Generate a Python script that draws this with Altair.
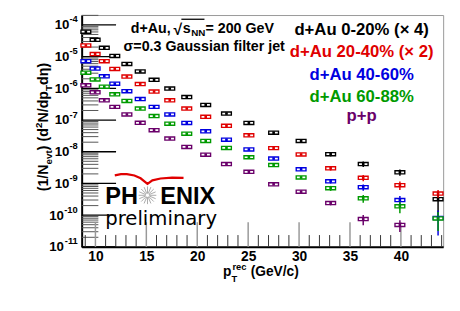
import math
import altair as alt
import pandas as pd

# ---------------- data ----------------
pt = [9.06, 9.97, 10.87, 11.9, 13.09, 14.4, 15.76, 17.3, 18.97, 20.83,
      22.87, 25.07, 27.5, 30.2, 33.1, 36.3, 39.9, 43.65]

dau_0_20 = [6.1e-5, 3.4e-5, 1.9e-5, 1.05e-5, 5.9e-6, 3.4e-6, 1.86e-6, 9.8e-7, 5.3e-7, 3.0e-7,
            1.6e-7, 8.1e-8, 4.0e-8, 2.2e-8, 8.4e-9, 4.1e-9, 2.25e-9, 3.2e-10]
dau_20_40 = [2.25e-5, 1.2e-5, 7.2e-6, 4.1e-6, 2.35e-6, 1.36e-6, 7.9e-7, 4.2e-7, 2.3e-7, 1.26e-7,
             6.6e-8, 3.3e-8, 1.3e-8, 8.2e-9, 3.0e-9, 1.5e-9, 8.8e-10, 4.8e-10]
dau_40_60 = [7.2e-6, 4.2e-6, 2.4e-6, 1.4e-6, 8.1e-7, 4.6e-7, 2.6e-7, 1.5e-7, 8.1e-8, 4.4e-8,
             2.4e-8, 1.18e-8, 6.1e-9, 2.8e-9, 1.17e-9, 7.6e-10, 3.0e-10, 8.2e-11]
dau_60_88 = [3.1e-6, 1.9e-6, 1.13e-6, 6.5e-7, 4.0e-7, 2.3e-7, 1.33e-7, 7.7e-8, 3.7e-8, 2.2e-8,
             1.32e-8, 6.7e-9, 3.8e-9, 1.55e-9, 7.1e-10, 3.4e-10, 1.9e-10, 7.9e-11]
pp = [1.24e-6, 7.5e-7, 4.2e-7, 2.6e-7, 1.5e-7, 8.2e-8, 4.8e-8, 2.6e-8, 1.42e-8, 8.1e-9,
      4.1e-9, 2.33e-9, 9.4e-10, 5.5e-10, 2.4e-10, 7.5e-11, 4.9e-11, None]

# relative statistical errors
err_0_20 = [0.02, 0.02, 0.02, 0.02, 0.02, 0.02, 0.02, 0.03, 0.03, 0.03,
             0.04, 0.04, 0.05, 0.06, 0.15, 0.20, 0.22, 0.70]
err_20_40 = [0.02, 0.02, 0.02, 0.02, 0.02, 0.02, 0.02, 0.03, 0.03, 0.03,
             0.04, 0.04, 0.05, 0.06, 0.15, 0.22, 0.30, 0.30]
err_40_60 = [0.02, 0.02, 0.02, 0.02, 0.02, 0.02, 0.02, 0.03, 0.03, 0.03,
             0.04, 0.04, 0.05, 0.06, 0.15, 0.22, 0.33, 0.72]
err_60_88 = [0.02, 0.02, 0.02, 0.02, 0.02, 0.02, 0.02, 0.03, 0.03, 0.03,
             0.04, 0.04, 0.05, 0.07, 0.18, 0.28, 0.40, 0.60]
err_pp = [0.02, 0.02, 0.02, 0.02, 0.02, 0.02, 0.02, 0.03, 0.03, 0.03,
          0.04, 0.04, 0.05, 0.07, 0.15, 0.36, 0.40, 0.0]

series_names = ["d+Au 0-20% (\u00d7 4)", "d+Au 20-40% (\u00d7 2)", "d+Au 40-60%", "d+Au 60-88%", "p+p"]
series_colors = ["#000000", "#e00000", "#0000e0", "#009a00", "#6a006a"]

x_tick_labels = [10, 15, 20, 25, 30, 35, 40]
y_decades = [-4, -5, -6, -7, -8, -9, -10, -11]

# ---------------- style / layout ----------------
W, H = 368, 236
XDOM = [8.65, 44.15]
YDOM = [1e-11, 2.05e-4]
SYS = 1.12      # half-height of systematic box (factor)
BOXHW = 0.48    # half-width of systematic box (pT units)
FONT = "Liberation Sans"

xscale = alt.Scale(domain=XDOM, nice=False, zero=False)
yscale = alt.Scale(type="log", domain=YDOM, nice=False)
xaxis = alt.Axis(values=x_tick_labels, format="d", labelFont=FONT, labelFontSize=14,
                 labelFontWeight="bold", labelColor="black", labelPadding=3,
                 ticks=False, grid=False, title=None, domainColor="black", domainWidth=2)
yaxis = alt.Axis(labels=False, ticks=False, grid=False, title=None,
                 domainColor="black", domainWidth=2)


def X(f):
    return alt.X(f, type="quantitative", scale=xscale, axis=xaxis)


def Y(f):
    return alt.Y(f, type="quantitative", scale=yscale, axis=yaxis)


rows = []
for name, vals, errs in zip(series_names,
                            [dau_0_20, dau_20_40, dau_40_60, dau_60_88, pp],
                            [err_0_20, err_20_40, err_40_60, err_60_88, err_pp]):
    for x, v, e in zip(pt, vals, errs):
        if v is None:
            continue
        rows.append(dict(s=name, x=x, y=v, ylo=v * (1 - e), yhi=v * (1 + e),
                         blo=v / SYS, bhi=v * SYS, xlo=x - BOXHW, xhi=x + BOXHW))
df = pd.DataFrame(rows)

color = alt.Color("s:N", scale=alt.Scale(domain=series_names, range=series_colors), legend=None)

base = alt.Chart(df)
boxes = base.mark_rect(fill="white", strokeWidth=1.4).encode(
    x=X("xlo"), x2="xhi", y=Y("blo"), y2="bhi", stroke=color)
errs = base.mark_rule(strokeWidth=1.5).encode(x=X("x"), y=Y("ylo"), y2="yhi", color=color)
dots = base.mark_square(size=7, opacity=1).encode(x=X("x"), y=Y("y"), color=color)

# ticks (drawn inward, ROOT style)
minor_y = pd.DataFrame({"v": [k * 10.0 ** d for d in range(-11, -3) for k in range(2, 10)
                              if k * 10.0 ** d <= YDOM[1]]})
major_y = pd.DataFrame({"v": [10.0 ** d for d in range(-11, -3)]})
ytick_minor = alt.Chart(minor_y).mark_rule(color="#555555", strokeWidth=1).encode(
    y=Y("v"), x=alt.value(0), x2=alt.value(17))
ytick_major = alt.Chart(major_y).mark_rule(color="black", strokeWidth=1.3).encode(
    y=Y("v"), x=alt.value(0), x2=alt.value(35))
minor_x = pd.DataFrame({"t": [t for t in range(9, 45) if t % 5 != 0]})
major_x = pd.DataFrame({"t": [t for t in range(10, 45, 5)]})
xtick_minor = alt.Chart(minor_x).mark_rule(color="#333333", strokeWidth=1).encode(
    x=X("t"), y=alt.value(H), y2=alt.value(H - 12))
xtick_major = alt.Chart(major_x).mark_rule(color="#999999", strokeWidth=1.5).encode(
    x=X("t"), y=alt.value(H), y2=alt.value(H - 25))

# y tick labels 10^n
lab = pd.DataFrame({"v": [10.0 ** d for d in y_decades], "e": [str(d) for d in y_decades],
                    "two": [d <= -10 for d in y_decades]})
ylab_exp = alt.Chart(lab).mark_text(font=FONT, fontSize=9.5, fontWeight="bold", align="right",
                                    baseline="middle", dy=-5.5, color="black").encode(
    y=Y("v"), x=alt.value(-4), text="e:N")
ylab_10a = alt.Chart(lab).transform_filter("!datum.two").mark_text(
    font=FONT, fontSize=13.5, fontWeight="bold", align="right", baseline="middle", dy=0.5,
    color="black", text="10").encode(y=Y("v"), x=alt.value(-12.5))
ylab_10b = alt.Chart(lab).transform_filter("datum.two").mark_text(
    font=FONT, fontSize=13.5, fontWeight="bold", align="right", baseline="middle", dy=0.5,
    color="black", text="10").encode(y=Y("v"), x=alt.value(-18))

one = pd.DataFrame({"a": [0]})


def txt(s, x, y, size=14.5, weight="bold", color="black", align="left", angle=0, font=FONT):
    return alt.Chart(one).mark_text(text=s, fontSize=size, fontWeight=weight, color=color,
                                    align=align, angle=angle, font=font,
                                    baseline="alphabetic").encode(x=alt.value(x), y=alt.value(y))


texts = [
    # header
    txt("d+Au,", 50, 18.2),
    txt("\u221a", 93.5, 20.5, size=16),
    txt("s", 103, 18.2),
    txt("NN", 111.5, 21.7, size=10),
    txt("= 200 GeV", 126, 18.2),
    txt("\u03c3=0.3 Gaussian filter jet", 42.7, 36.8),
]
overline = alt.Chart(one).mark_rule(color="black", strokeWidth=1.3).encode(
    x=alt.value(101.5), x2=alt.value(125), y=alt.value(4.3))

leg_y = [20.8, 43.2, 65.8, 88.5, 107.5]
for name, c, yy in zip(series_names, series_colors, leg_y):
    texts.append(txt(name, 285, yy, size=17, color=c, align="center"))

# y title (rotated)
texts += [
    txt("(1/N", -34.5, 179.5, angle=270),
    txt("evt", -30.5, 152.1, size=10, angle=270),
    txt(") (d", -34.5, 137.6, angle=270),
    txt("2", -40.5, 115.1, size=10, angle=270),
    txt("N/dp", -34.5, 109.5, angle=270),
    txt("T", -30.5, 77.3, size=10, angle=270),
    txt("d\u03b7)", -34.5, 71.2, angle=270),
]
# x title
texts += [
    txt("p", 144, 265.5, size=14),
    txt("rec", 153.5, 259.6, size=9.5),
    txt("T", 152.5, 271.5, size=9.5),
    txt("(GeV/c)", 172, 266, size=14),
]
# PHENIX logo
texts += [
    txt("PH", 24, 192.5, size=24),
    txt("ENIX", 80, 192.5, size=24),
    txt("preliminary", 24, 213.5, size=20, weight="normal", font="DejaVu Sans"),
]
spokes = 16
star_path = " ".join(
    "M{:.3f},{:.3f}L{:.3f},{:.3f}".format(0.2 * math.cos(2 * math.pi * i / spokes),
                                          0.2 * math.sin(2 * math.pi * i / spokes),
                                          math.cos(2 * math.pi * i / spokes),
                                          math.sin(2 * math.pi * i / spokes))
    for i in range(spokes))
star = alt.Chart(one).mark_point(shape=star_path, size=324, filled=False, stroke="#888888",
                                 strokeWidth=1).encode(x=alt.value(67), y=alt.value(183.5))

# red arc of the logo (decoration), converted from plot pixels to data space
arc_px = [(33.7, 163.2), (40, 162.0), (46, 161.9), (53.7, 163.3), (60, 166.2), (67, 171.8),
          (72, 168.3), (80.3, 166.4), (92, 165.5), (103.7, 165.8)]
lr = math.log10(YDOM[1]) - math.log10(YDOM[0])
arc = pd.DataFrame({
    "x": [XDOM[0] + px / W * (XDOM[1] - XDOM[0]) for px, _ in arc_px],
    "y": [10 ** (math.log10(YDOM[0]) + (H - py) / H * lr) for _, py in arc_px],
    "o": list(range(len(arc_px)))})
arc_line = alt.Chart(arc).mark_line(color="#e00000", strokeWidth=2.2).encode(
    x=X("x"), y=Y("y"), order="o:Q")

chart = alt.layer(
    ytick_minor, ytick_major, xtick_minor, xtick_major,
    boxes, errs, dots,
    ylab_exp, ylab_10a, ylab_10b,
    arc_line, star, overline, *texts
).properties(
    width=W, height=H,
    padding={"left": 75, "top": 4.5, "right": 9, "bottom": 54.5},
    autosize=alt.AutoSizeParams(type="none"),
).configure_view(stroke="#999999", strokeWidth=1)

chart.save("out.html", embed_options={"renderer": "svg", "actions": False})
